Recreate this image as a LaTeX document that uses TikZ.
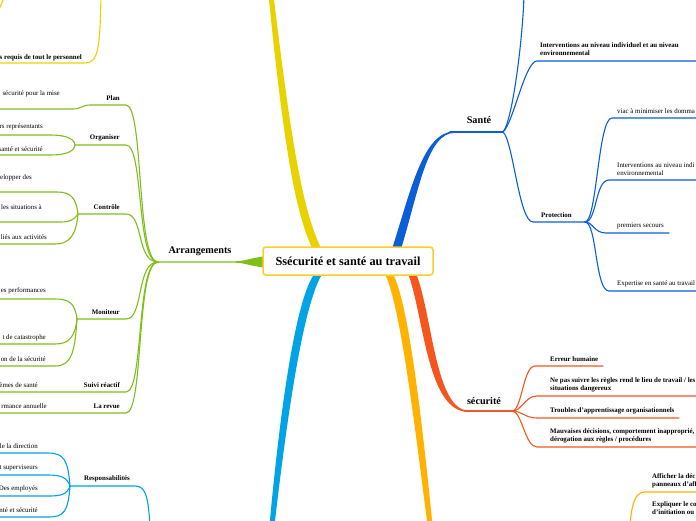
\documentclass[tikz,border=0pt]{standalone}
\usepackage{fontspec}
\setmainfont{Liberation Serif}
\definecolor{cyel}{HTML}{E8D300}
\definecolor{cbox}{HTML}{F7CF2A}
\definecolor{cgreen}{HTML}{7FBF1A}
\definecolor{cblue}{HTML}{0A5ED8}
\definecolor{cred}{HTML}{F4561E}
\definecolor{camber}{HTML}{FFB300}
\definecolor{clblue}{HTML}{00A3E6}
\tikzset{
  small/.style={font=\fontsize{6.9}{8}\selectfont, inner sep=0pt, align=left},
  smallb/.style={font=\fontsize{6.9}{8}\selectfont\bfseries, inner sep=0pt, align=left},
  topic/.style={font=\fontsize{10.2}{12}\selectfont\bfseries, inner sep=0pt},
  thinline/.style={line width=1.1pt, line cap=round},
  gline/.style={thinline, cgreen},
  bline/.style={thinline, cblue},
  rline/.style={thinline, cred},
  lbline/.style={thinline, clblue},
  yline/.style={thinline, cyel},
  aline/.style={thinline, camber},
}
\begin{document}
\begin{tikzpicture}[x=1pt,y=-1pt]
\useasboundingbox (0,0) rectangle (696,520);
\clip (0,0) rectangle (696,520);
\fill[white] (0,0) rectangle (696,520);

% ---------- trunks ----------
\fill[cyel] (313,250) .. controls (296,215) and (284,150) .. (268.5,-5) -- (273.5,-5) .. controls (292,150) and (304,215) .. (322,250) -- cycle;
\fill[cblue] (392,249) .. controls (411,190) and (423,131.3) .. (455,131.3) -- (455,132.8) .. controls (427,132.8) and (419,190) .. (401,249) -- cycle;
\fill[cred] (409,276) .. controls (424,320) and (428,411.8) .. (468,411.8) -- (468,410.3) .. controls (436,410.3) and (432,316) .. (417,276) -- cycle;
\fill[camber] (386,276) .. controls (401,312) and (414,420) .. (427.5,525) -- (432.5,525) .. controls (422,420) and (409,308) .. (394,276) -- cycle;
\fill[clblue] (313,276) .. controls (296,303) and (281,400) .. (269.5,525) -- (274.5,525) .. controls (289,400) and (304,307) .. (321,276) -- cycle;
\fill[cgreen] (264,256.5) .. controls (250,258) and (245,261.2) .. (235,261.3) -- (158,261.3) -- (158,262.7) -- (235,262.7) .. controls (245,262.8) and (250,266) .. (264,267.5) -- cycle;

% ---------- root ----------
\node[draw=cbox, line width=1.5pt, rounded corners=3pt, fill=white, minimum width=170pt, minimum height=28pt, inner sep=0pt, font=\fontsize{12.3}{14}\selectfont\bfseries] (root) at (348,261) {Ssécurité et santé au travail};

% ---------- coordinates ----------
\coordinate (aJ) at (158,262);
\coordinate (planR) at (126,105); \coordinate (planL) at (90,105);
\coordinate (planC) at (73,109); \coordinate (planE) at (-5,109);
\coordinate (orgR) at (126,145); \coordinate (orgL) at (75,145);
\coordinate (oc1) at (50,135); \coordinate (oc1e) at (-5,135);
\coordinate (oc2) at (50,155); \coordinate (oc2e) at (-5,155);
\coordinate (conR) at (126,214); \coordinate (conL) at (78,214);
\coordinate (cc1) at (57,192); \coordinate (cc1e) at (-5,192);
\coordinate (cc2) at (60,222); \coordinate (cc2e) at (-5,222);
\coordinate (cc3) at (55,244); \coordinate (cc3e) at (-5,244);
\coordinate (monR) at (126,319); \coordinate (monL) at (77,319);
\coordinate (mc1) at (55,299); \coordinate (mc1e) at (-5,299);
\coordinate (mc2) at (55,344); \coordinate (mc2e) at (-5,344);
\coordinate (mc3) at (55,366); \coordinate (mc3e) at (-5,366);
\coordinate (suiR) at (126,392); \coordinate (suiE) at (-5,392);
\coordinate (revR) at (126,413); \coordinate (revE) at (-5,413);

\coordinate (resB) at (150,525); \coordinate (resR) at (135,486); \coordinate (resL) at (70,486);
\coordinate (rc1) at (48,453); \coordinate (rc1e) at (-5,453);
\coordinate (rc2) at (48,475); \coordinate (rc2e) at (-5,475);
\coordinate (rc3) at (48,496); \coordinate (rc3e) at (-5,496);
\coordinate (rc4) at (48,517); \coordinate (rc4e) at (-5,517);

\coordinate (yT) at (101,-5); \coordinate (yC) at (85,63); \coordinate (yE) at (-5,63);
\coordinate (yT2) at (4,-3); \coordinate (yE2) at (-3,14);

\coordinate (sS) at (450,132); \coordinate (sJ) at (503,132);
\coordinate (sTop) at (524,-5);
\coordinate (iL) at (537,61); \coordinate (iE) at (700,61);
\coordinate (pL) at (533,222); \coordinate (pR) at (585,222);
\coordinate (p1) at (612,118); \coordinate (p1e) at (700,118);
\coordinate (p2) at (609,180); \coordinate (p2e) at (700,180);
\coordinate (p3) at (606,233); \coordinate (p3e) at (669,233);
\coordinate (p4) at (609,291); \coordinate (p4e) at (700,291);

\coordinate (eS) at (465,411); \coordinate (eJ) at (512,411);
\coordinate (e1) at (535,366); \coordinate (e1e) at (603,366);
\coordinate (e2) at (537,396); \coordinate (e2e) at (700,396);
\coordinate (e3) at (537,418); \coordinate (e3e) at (679,418);
\coordinate (e4) at (537,447); \coordinate (e4e) at (700,447);

\coordinate (amB) at (630,525); \coordinate (am1) at (645,492); \coordinate (am1e) at (700,492);

% ---------- green connectors ----------
\draw[gline] (aJ) .. controls +(-22,0) and +(18,0) .. (planR) -- (planL) .. controls +(-8,0) and +(8,0) .. (planC) -- (planE);
\draw[gline] (aJ) .. controls +(-22,0) and +(18,0) .. (orgR) -- (orgL);
\draw[gline] (orgL) .. controls +(-1,-8) and +(12,0) .. (oc1) -- (oc1e);
\draw[gline] (orgL) .. controls +(-1,8) and +(12,0) .. (oc2) -- (oc2e);
\draw[gline] (aJ) .. controls +(-22,0) and +(18,0) .. (conR) -- (conL);
\draw[gline] (conL) .. controls +(-2,-16) and +(14,0) .. (cc1) -- (cc1e);
\draw[gline] (conL) .. controls +(-4,6) and +(10,0) .. (cc2) -- (cc2e);
\draw[gline] (conL) .. controls +(-2,22) and +(14,0) .. (cc3) -- (cc3e);
\draw[gline] (aJ) .. controls +(-22,0) and +(18,0) .. (monR) -- (monL);
\draw[gline] (monL) .. controls +(-2,-16) and +(14,0) .. (mc1) -- (mc1e);
\draw[gline] (monL) .. controls +(-2,18) and +(14,0) .. (mc2) -- (mc2e);
\draw[gline] (monL) .. controls +(-2,34) and +(16,0) .. (mc3) -- (mc3e);
\draw[gline] (aJ) .. controls +(-22,0) and +(18,0) .. (suiR) -- (suiE);
\draw[gline] (aJ) .. controls +(-22,0) and +(18,0) .. (revR) -- (revE);

% ---------- light blue connectors ----------
\draw[lbline] (resB) .. controls +(-2,-25) and +(12,0) .. (resR) -- (resL);
\draw[lbline] (resL) .. controls +(-2,-26) and +(16,0) .. (rc1) -- (rc1e);
\draw[lbline] (resL) .. controls +(-3,-9) and +(12,0) .. (rc2) -- (rc2e);
\draw[lbline] (resL) .. controls +(-3,9) and +(12,0) .. (rc3) -- (rc3e);
\draw[lbline] (resL) .. controls +(-2,26) and +(16,0) .. (rc4) -- (rc4e);

% ---------- yellow connectors ----------
\draw[yline] (yT) .. controls +(-1,55) and +(13,0) .. (yC) -- (yE);
\draw[yline] (yT2) .. controls +(-2,6) and +(2,-4) .. (yE2);

% ---------- blue connectors ----------
\draw[bline] (sS) -- (sJ);
\draw[bline] (sJ) .. controls +(10,-12) and +(-1,40) .. (sTop);
\draw[bline] (sJ) .. controls +(10,-8) and +(-12,0) .. (iL) -- (iE);
\draw[bline] (sJ) .. controls +(10,8) and +(-14,0) .. (pL) -- (pR);
\draw[bline] (pR) .. controls +(12,0) and +(-14,0) .. (p1) -- (p1e);
\draw[bline] (pR) .. controls +(12,0) and +(-14,0) .. (p2) -- (p2e);
\draw[bline] (pR) .. controls +(8,0) and +(-12,0) .. (p3) -- (p3e);
\draw[bline] (pR) .. controls +(12,0) and +(-14,0) .. (p4) -- (p4e);

% ---------- red connectors ----------
\draw[rline] (eS) -- (eJ);
\draw[rline] (eJ) .. controls +(10,0) and +(-12,0) .. (e1) -- (e1e);
\draw[rline] (eJ) .. controls +(10,0) and +(-12,0) .. (e2) -- (e2e);
\draw[rline] (eJ) .. controls +(10,0) and +(-12,0) .. (e3) -- (e3e);
\draw[rline] (eJ) .. controls +(10,0) and +(-12,0) .. (e4) -- (e4e);

% ---------- amber connectors ----------
\draw[aline] (amB) .. controls +(2,-22) and +(-10,0) .. (am1) -- (am1e);

% ---------- topic labels ----------
\node[topic] (arr) at (200,251) {Arrangements};
\node[topic] (sante) at (479,120) {Santé};
\node[topic] (secu) at (484,401) {sécurité};

% ---------- green labels ----------
\node[smallb, anchor=east] (plan) at (120,98) {Plan};
\node[smallb, anchor=east] (org) at (120,138) {Organiser};
\node[smallb, anchor=east] (con) at (120,207) {Contrôle};
\node[smallb, anchor=east] (mon) at (120,312) {Moniteur};
\node[smallb, anchor=east] (sui) at (120,385) {Suivi réactif};
\node[smallb, anchor=east] (rev) at (120,406) {La revue};
\node[small, anchor=east] (t1) at (60,94) {sécurité pour la mise};
\node[small, anchor=east] (t2) at (43,127) {rs représentants};
\node[small, anchor=east] (t3) at (43,149) {santé et sécurité};
\node[small, anchor=east] (t4) at (32,178) {elopper des};
\node[small, anchor=east] (t5) at (42,207) {les situations à};
\node[small, anchor=east] (t6) at (47,237) {liés aux activités};
\node[small, anchor=east] (t7) at (46,291) {es performances};
\node[small, anchor=east] (t8) at (46,338) {t de catastrophe};
\node[small, anchor=east] (t9) at (46,359) {on de la sécurité};
\node[small, anchor=east] (t10) at (38,385) {èmes de santé};
\node[small, anchor=east] (t11) at (47,406) {rmance annuelle};

% ---------- light blue labels ----------
\node[smallb, anchor=east] (res) at (130,479) {Responsabilités};
\node[small, anchor=east] (r1) at (38,446) {le la direction};
\node[small, anchor=east] (r2) at (38,468) {t superviseurs};
\node[small, anchor=east] (r3) at (38,489) {Des employés};
\node[small, anchor=east] (r4) at (38,510) {nté et sécurité};

% ---------- yellow label ----------
\node[smallb, anchor=east] (y1) at (82,58) {s requis de tout le personnel};

% ---------- blue labels ----------
\node[smallb, anchor=west] (iv) at (540,49) {Interventions au niveau individuel et au niveau\\environnemental};
\node[smallb, anchor=west] (prot) at (541,215) {Protection};
\node[small, anchor=west] (pv1) at (617,111) {viac à minimiser les domma};
\node[small, anchor=west] (pv2) at (617,169) {Interventions au niveau indi\\environnemental};
\node[small, anchor=west] (pv3) at (617,226) {premiers secours};
\node[small, anchor=west] (pv4) at (617,284) {Expertise en santé au travail};

% ---------- red labels ----------
\node[smallb, anchor=west] (s1) at (550,359) {Erreur humaine};
\node[smallb, anchor=west] (s2) at (550,385) {Ne pas suivre les règles rend le lieu de travail / les\\situations dangereux};
\node[smallb, anchor=west] (s3) at (550,411) {Troubles d'apprentissage organisationnels};
\node[smallb, anchor=west] (s4) at (550,436) {Mauvaises décisions, comportement inapproprié,\\dérogation aux règles / procédures};

% ---------- amber labels ----------
\node[smallb, anchor=west] (a1) at (652,481) {Afficher la déc\\panneaux d'aff};
\node[smallb, anchor=west] (a2) at (652,508) {Expliquer le co\\d'initiation ou};
\end{tikzpicture}
\end{document}
